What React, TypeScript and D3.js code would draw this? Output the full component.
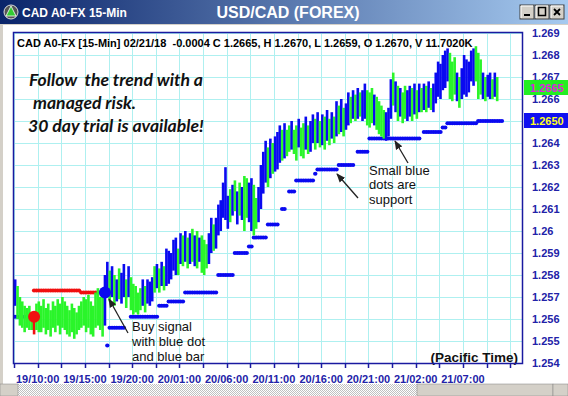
import React from "react";
import * as d3 from "d3";

// ---------- data ----------
const barHigh = [
  1.2578, 1.2575, 1.2570, 1.2568, 1.2566, 1.2565, 1.2566, 1.2563, 1.2562, 1.2567,
  1.2568, 1.2566, 1.2569, 1.2565, 1.2567, 1.2564, 1.2568, 1.2566, 1.2569, 1.2567,
  1.2570, 1.2568, 1.2566, 1.2564, 1.2567, 1.2565, 1.2563, 1.2566, 1.2568, 1.2570,
  1.2569, 1.2571, 1.2568, 1.2566, 1.2572, 1.2574, 1.2570, 1.2570, 1.2580, 1.2586,
  1.2582, 1.2584, 1.2580, 1.2578, 1.2583, 1.2581, 1.2585, 1.2578, 1.2584, 1.2579,
  1.2576, 1.2575, 1.2572, 1.2574, 1.2578, 1.2575, 1.2578, 1.2577, 1.2579, 1.2584,
  1.2585, 1.2583, 1.2586, 1.2584, 1.2592, 1.2591, 1.2590, 1.2596, 1.2597, 1.2592,
  1.2599, 1.2598, 1.2600, 1.2597, 1.2599, 1.2601, 1.2598, 1.2600, 1.2597, 1.2598,
  1.2596, 1.2594, 1.2599, 1.2606, 1.2603, 1.2606, 1.2612, 1.2614, 1.2622, 1.2629,
  1.2616, 1.2619, 1.2621, 1.2623, 1.2618, 1.2622, 1.2620, 1.2625, 1.2624, 1.2622,
  1.2624, 1.2621, 1.2615, 1.2620, 1.2630, 1.2636, 1.2641, 1.2638, 1.2642, 1.2640,
  1.2643, 1.2645, 1.2648, 1.2646, 1.2649, 1.2646, 1.2648, 1.2650, 1.2646, 1.2648,
  1.2651, 1.2647, 1.2649, 1.2652, 1.2648, 1.2650, 1.2653, 1.2651, 1.2654, 1.2650,
  1.2653, 1.2652, 1.2655, 1.2651, 1.2654, 1.2652, 1.2659, 1.2657, 1.2660, 1.2656,
  1.2658, 1.2663, 1.2661, 1.2664, 1.2662, 1.2665, 1.2663, 1.2664, 1.2667, 1.2664,
  1.2663, 1.2665, 1.2662, 1.2661, 1.2659, 1.2657, 1.2655, 1.2654, 1.2656, 1.2669,
  1.2672, 1.2668, 1.2666, 1.2665, 1.2663, 1.2666, 1.2664, 1.2666, 1.2665, 1.2667,
  1.2664, 1.2667, 1.2665, 1.2667, 1.2666, 1.2668, 1.2665, 1.2667, 1.2672, 1.2677,
  1.2676, 1.2680, 1.2682, 1.2683, 1.2681, 1.2677, 1.2679, 1.2672, 1.2670, 1.2674,
  1.2680, 1.2678, 1.2677, 1.2682, 1.2683, 1.2684, 1.2681, 1.2678, 1.2672, 1.2670,
  1.2671, 1.2672, 1.2669, 1.2672, 1.2670,
];
const barLow = [
  1.2566, 1.2560, 1.2557, 1.2556, 1.2554, 1.2556, 1.2555, 1.2555, 1.2553, 1.2555,
  1.2554, 1.2554, 1.2556, 1.2553, 1.2555, 1.2552, 1.2556, 1.2554, 1.2557, 1.2553,
  1.2556, 1.2555, 1.2553, 1.2552, 1.2554, 1.2551, 1.2553, 1.2555, 1.2556, 1.2557,
  1.2554, 1.2556, 1.2553, 1.2552, 1.2556, 1.2557, 1.2555, 1.2552, 1.2557, 1.2572,
  1.2568, 1.2570, 1.2566, 1.2568, 1.2569, 1.2567, 1.2570, 1.2565, 1.2570, 1.2564,
  1.2562, 1.2563, 1.2562, 1.2564, 1.2566, 1.2563, 1.2567, 1.2566, 1.2568, 1.2572,
  1.2574, 1.2572, 1.2575, 1.2573, 1.2575, 1.2576, 1.2578, 1.2582, 1.2580, 1.2580,
  1.2585, 1.2584, 1.2586, 1.2583, 1.2585, 1.2586, 1.2584, 1.2583, 1.2586, 1.2581,
  1.2580, 1.2583, 1.2585, 1.2590, 1.2591, 1.2592, 1.2598, 1.2600, 1.2606, 1.2605,
  1.2601, 1.2604, 1.2607, 1.2609, 1.2603, 1.2607, 1.2605, 1.2600, 1.2606, 1.2604,
  1.2600, 1.2598, 1.2601, 1.2604, 1.2610, 1.2617, 1.2622, 1.2620, 1.2624, 1.2626,
  1.2627, 1.2628, 1.2631, 1.2632, 1.2633, 1.2634, 1.2636, 1.2637, 1.2635, 1.2632,
  1.2638, 1.2634, 1.2633, 1.2637, 1.2635, 1.2636, 1.2640, 1.2637, 1.2640, 1.2638,
  1.2639, 1.2637, 1.2641, 1.2639, 1.2642, 1.2640, 1.2643, 1.2644, 1.2645, 1.2643,
  1.2646, 1.2648, 1.2649, 1.2651, 1.2650, 1.2651, 1.2652, 1.2650, 1.2651, 1.2648,
  1.2647, 1.2649, 1.2648, 1.2646, 1.2644, 1.2643, 1.2642, 1.2641, 1.2643, 1.2651,
  1.2657, 1.2654, 1.2650, 1.2652, 1.2649, 1.2651, 1.2650, 1.2652, 1.2650, 1.2653,
  1.2651, 1.2654, 1.2654, 1.2655, 1.2654, 1.2656, 1.2655, 1.2654, 1.2658, 1.2661,
  1.2660, 1.2664, 1.2665, 1.2668, 1.2660, 1.2659, 1.2662, 1.2659, 1.2656, 1.2660,
  1.2662, 1.2661, 1.2663, 1.2668, 1.2666, 1.2668, 1.2660, 1.2662, 1.2660, 1.2659,
  1.2661, 1.2660, 1.2660, 1.2661, 1.2659,
];
// bar colour codes, one per bar: b = blue, g = green, r = red
const barColors = [
  "b","g","g","g","g","g","g","g","r","g",
  "g","g","g","g","g","g","g","g","g","g",
  "g","g","g","g","g","g","g","g","g","g",
  "g","g","g","g","g","g","g","g","b","b",
  "g","b","g","b","g","b","b","g","b","g",
  "g","g","g","g","b","g","b","b","b","g",
  "b","g","b","g","b","b","b","b","b","g",
  "b","g","b","g","b","g","b","g","b","g",
  "g","g","b","b","g","b","b","b","b","b",
  "b","g","b","g","b","g","b","g","g","b",
  "b","g","g","b","b","b","b","g","b","g",
  "b","b","b","g","b","g","g","b","g","g",
  "b","g","g","b","g","b","b","g","b","g",
  "b","g","b","g","b","g","b","g","b","g",
  "b","b","g","b","g","b","g","b","b","g",
  "g","g","b","g","g","g","g","b","b","b",
  "g","b","g","b","g","g","b","b","g","b",
  "g","b","g","b","g","b","g","b","b","b",
  "b","b","b","b","g","g","g","b","g","b",
  "b","b","b","b","b","g","g","g","b","g",
  "b","b","g","b","g",
];
// support (blue dots): [firstBar, lastBar, price]
const supportRuns: [number, number, number][] = [
  [0, 7, 1.2561], [39, 39, 1.2548], [40, 46, 1.2556], [49, 60, 1.2561],
  [61, 64, 1.2566], [65, 71, 1.2568], [72, 85, 1.2572], [86, 92, 1.2580],
  [93, 98, 1.2590], [99, 100, 1.2593], [101, 106, 1.2597], [107, 111, 1.2603],
  [113, 114, 1.2610], [116, 118, 1.2618], [119, 126, 1.2623], [127, 127, 1.2626],
  [128, 136, 1.2628], [137, 143, 1.2630], [145, 149, 1.2636], [150, 171, 1.2642],
  [173, 180, 1.2645], [181, 182, 1.2647], [183, 195, 1.2649], [196, 206, 1.2650],
];
// resistance (red dots)
const resistRuns: [number, number, number][] = [
  [8, 27, 1.2573], [28, 36, 1.2572],
];
const sellSignal = { bar: 8, price: 1.2561 };
const buySignal = { bar: 38, price: 1.2572 };
const yTicks = [1.254, 1.255, 1.256, 1.257, 1.258, 1.259, 1.26, 1.261, 1.262, 1.263, 1.264, 1.265, 1.266, 1.267, 1.268, 1.269];
const xTickLabels = ["19/10:00", "19/15:00", "19/20:00", "20/01:00", "20/06:00", "20/11:00", "20/16:00", "20/21:00", "21/02:00", "21/07:00"];
const lastClose = 1.2665;
const lastSupport = 1.2650;

const FONT = "Arial, 'Liberation Sans', sans-serif";
const BLUE = "#0a0af0";
const GREEN = "#2af52a";
const RED = "#f01010";
const AXIS_BLUE = "#2222a8";

export default function App() {
  const W = 568, H = 396;
  const L = 14, R = 522, T = 33, B = 363;
  const x = d3.scaleLinear().domain([0, 215]).range([L, R]);
  const y = d3.scaleLinear().domain([1.254, 1.269]).range([B, T]);
  const gridX = d3.range(0, 215, 10);
  const colorOf = (c: string) => (c === "b" ? BLUE : c === "g" ? GREEN : RED);

  const dots = (runs: [number, number, number][], fill: string) =>
    runs.flatMap(([a, b, v]) =>
      d3.range(a, b + 1).map((i) => (
        <ellipse key={`${fill}${i}`} cx={x(i + 0.5)} cy={y(v)} rx={2.2} ry={2} fill={fill} />
      ))
    );

  // labels hidden behind the price boxes are not drawn
  const visibleTicks = yTicks.filter((t) => Math.abs(t - lastSupport) > 1e-6);

  return (
    <svg width={W} height={H} style={{ position: "absolute", left: 0, top: 0 }} fontFamily={FONT}>
      <defs>
        <linearGradient id="tb" x1="0" x2="1" y1="0" y2="0">
          <stop offset="0" stopColor="#0a246a" />
          <stop offset="1" stopColor="#a6caf0" />
        </linearGradient>
        <pattern id="hatch" width="2" height="2" patternUnits="userSpaceOnUse">
          <rect width="2" height="2" fill="#ffffff" />
          <rect width="1" height="1" fill="#c0c0c0" />
          <rect x="1" y="1" width="1" height="1" fill="#c0c0c0" />
        </pattern>
        <marker id="arr" viewBox="0 0 10 10" refX="9" refY="5" markerWidth="7" markerHeight="7" orient="auto">
          <path d="M0,1 L10,5 L0,9 z" fill="#222" />
        </marker>
        <clipPath id="plotClip">
          <rect x={L} y={T} width={R - L} height={B - T} />
        </clipPath>
      </defs>
      {/* window frame */}
      <rect x={0} y={0} width={W} height={H} fill="#d4d0c8" />
      <rect x={3} y={25} width={W - 3} height={359} fill="#ffffff" />
      <rect x={0} y={0} width={W} height={24} fill="url(#tb)" />
      <circle cx={11} cy={12} r={7} fill="#555" stroke="#ddd" strokeWidth={1} />
      <path d="M11,6 L16,16 L6,16 Z" fill="#3c3" stroke="#fff" strokeWidth={0.8} />
      <text x={22} y={17} fill="#fff" fontSize={12} fontWeight="bold">CAD A0-FX 15-Min</text>
      <text x={288} y={18} fill="#fff" fontSize={16} fontWeight="bold" textAnchor="middle">USD/CAD (FOREX)</text>
      {[520, 535, 550].map((bx, k) => (
        <g key={bx}>
          <rect x={bx} y={5} width={14} height={14} fill="#d4d0c8" stroke="#404040" strokeWidth={1} />
          <path d={`M${bx + 1},${18} L${bx + 1},${6} L${bx + 13},${6}`} fill="none" stroke="#fff" />
          {k === 0 && <rect x={bx + 4} y={14} width={6} height={2} fill="#000" />}
          {k === 1 && <rect x={bx + 3.5} y={7.5} width={7} height={8} fill="none" stroke="#000" strokeWidth={1.5} />}
          {k === 2 && <path d={`M${bx + 4},9 L${bx + 10},15 M${bx + 10},9 L${bx + 4},15`} stroke="#000" strokeWidth={1.8} />}
        </g>
      ))}
      {/* bottom scrollbar */}
      <rect x={0} y={384} width={W} height={12} fill="url(#hatch)" />
      <rect x={0} y={384} width={18} height={12} fill="#d4d0c8" stroke="#808080" strokeWidth={0.5} />
      <rect x={417} y={384} width={136} height={12} fill="#d4d0c8" stroke="#808080" strokeWidth={0.5} />
      <rect x={553} y={384} width={15} height={12} fill="#d4d0c8" stroke="#808080" strokeWidth={0.5} />

      {/* plot grid */}
      <g stroke="#aef0f0" strokeWidth={1}>
        {yTicks.map((t) => (
          <line key={t} x1={L} x2={R} y1={Math.round(y(t)) + 0.5} y2={Math.round(y(t)) + 0.5} />
        ))}
        {gridX.map((i) => (
          <line key={i} x1={Math.round(x(i)) + 0.5} x2={Math.round(x(i)) + 0.5} y1={T} y2={B} />
        ))}
      </g>

      {/* header text */}
      <text x={17} y={47} fontSize={11} fontWeight="bold" fill="#000" xmlSpace="preserve" style={{ whiteSpace: "pre" }}>
        {"CAD A0-FX [15-Min] 02/21/18  -0.0004 C 1.2665, H 1.2670, L 1.2659, O 1.2670, V 11.7020K"}
      </text>
      {/* promo text */}
      <g fontFamily="Lato, 'Open Sans', sans-serif" fontStyle="italic" fontWeight="bold" fontSize={17.6} fill="#111">
        <text x={29} y={86} xmlSpace="preserve" style={{ whiteSpace: "pre" }}>{"Follow  the trend with a"}</text>
        <text x={33} y={109}>managed risk.</text>
        <text x={28} y={132}>30 day trial is available!</text>
      </g>

      <g clipPath="url(#plotClip)">
        {dots(resistRuns, RED)}
        {dots(supportRuns, BLUE)}
        {barHigh.map((h, i) => (
          <rect key={i} x={x(i + 0.5) - 1.3} y={y(h)} width={2.6} height={Math.max(1, y(barLow[i]) - y(h))} fill={colorOf(barColors[i])} />
        ))}
        <circle cx={x(sellSignal.bar + 0.5)} cy={y(sellSignal.price)} r={6} fill={RED} />
        <circle cx={x(buySignal.bar + 0.5)} cy={y(buySignal.price)} r={6} fill={BLUE} />
      </g>

      {/* annotations */}
      <line x1={128} y1={333} x2={109} y2={299} stroke="#222" strokeWidth={1.3} markerEnd="url(#arr)" />
      <g fontSize={13} fill="#111">
        <text x={132} y={331}>Buy signal</text>
        <text x={132} y={346}>with blue dot</text>
        <text x={132} y={361}>and blue bar</text>
        <text x={369} y={175}>Small blue</text>
        <text x={369} y={189}>dots are</text>
        <text x={369} y={204}>support</text>
      </g>
      <line x1={358} y1={198} x2={337} y2={174} stroke="#222" strokeWidth={1.3} markerEnd="url(#arr)" />
      <line x1={408} y1={163} x2={395} y2={141} stroke="#222" strokeWidth={1.3} markerEnd="url(#arr)" />
      <text x={518} y={362} fontSize={13.5} fontWeight="bold" fill="#111" textAnchor="end">(Pacific Time)</text>

      {/* plot border */}
      <rect x={L - 0.5} y={T - 0.5} width={R - L + 1} height={B - T + 1} fill="none" stroke="#1a1aa0" strokeWidth={1.5} />

      {/* x axis */}
      <g stroke="#1a1aa0" strokeWidth={1.5}>
        {gridX.map((i) => (
          <line key={i} x1={Math.round(x(i)) + 0.5} x2={Math.round(x(i)) + 0.5} y1={B} y2={B + 5} />
        ))}
      </g>
      {xTickLabels.map((lab, k) => (
        <text key={lab} x={x(10 + 20 * k)} y={383} fontSize={11} fontWeight="bold" fill={AXIS_BLUE} textAnchor="middle">{lab}</text>
      ))}

      {/* y axis labels */}
      {visibleTicks.map((t) => (
        <text key={t} x={532} y={y(t) + 4} fontSize={11} fontWeight="bold" fill={AXIS_BLUE}>{d3.format("~g")(t)}</text>
      ))}
      <rect x={524} y={y(lastClose) - 8} width={44} height={15} fill="#22ee22" />
      <text x={530} y={y(lastClose) + 4} fontSize={11} fontWeight="bold" fill="#e020e0">{lastClose.toFixed(4)}</text>
      <rect x={524} y={y(lastSupport) - 8} width={44} height={15} fill="#1010f0" />
      <text x={530} y={y(lastSupport) + 4} fontSize={11} fontWeight="bold" fill="#ffff20">{lastSupport.toFixed(4)}</text>
    </svg>
  );
}
